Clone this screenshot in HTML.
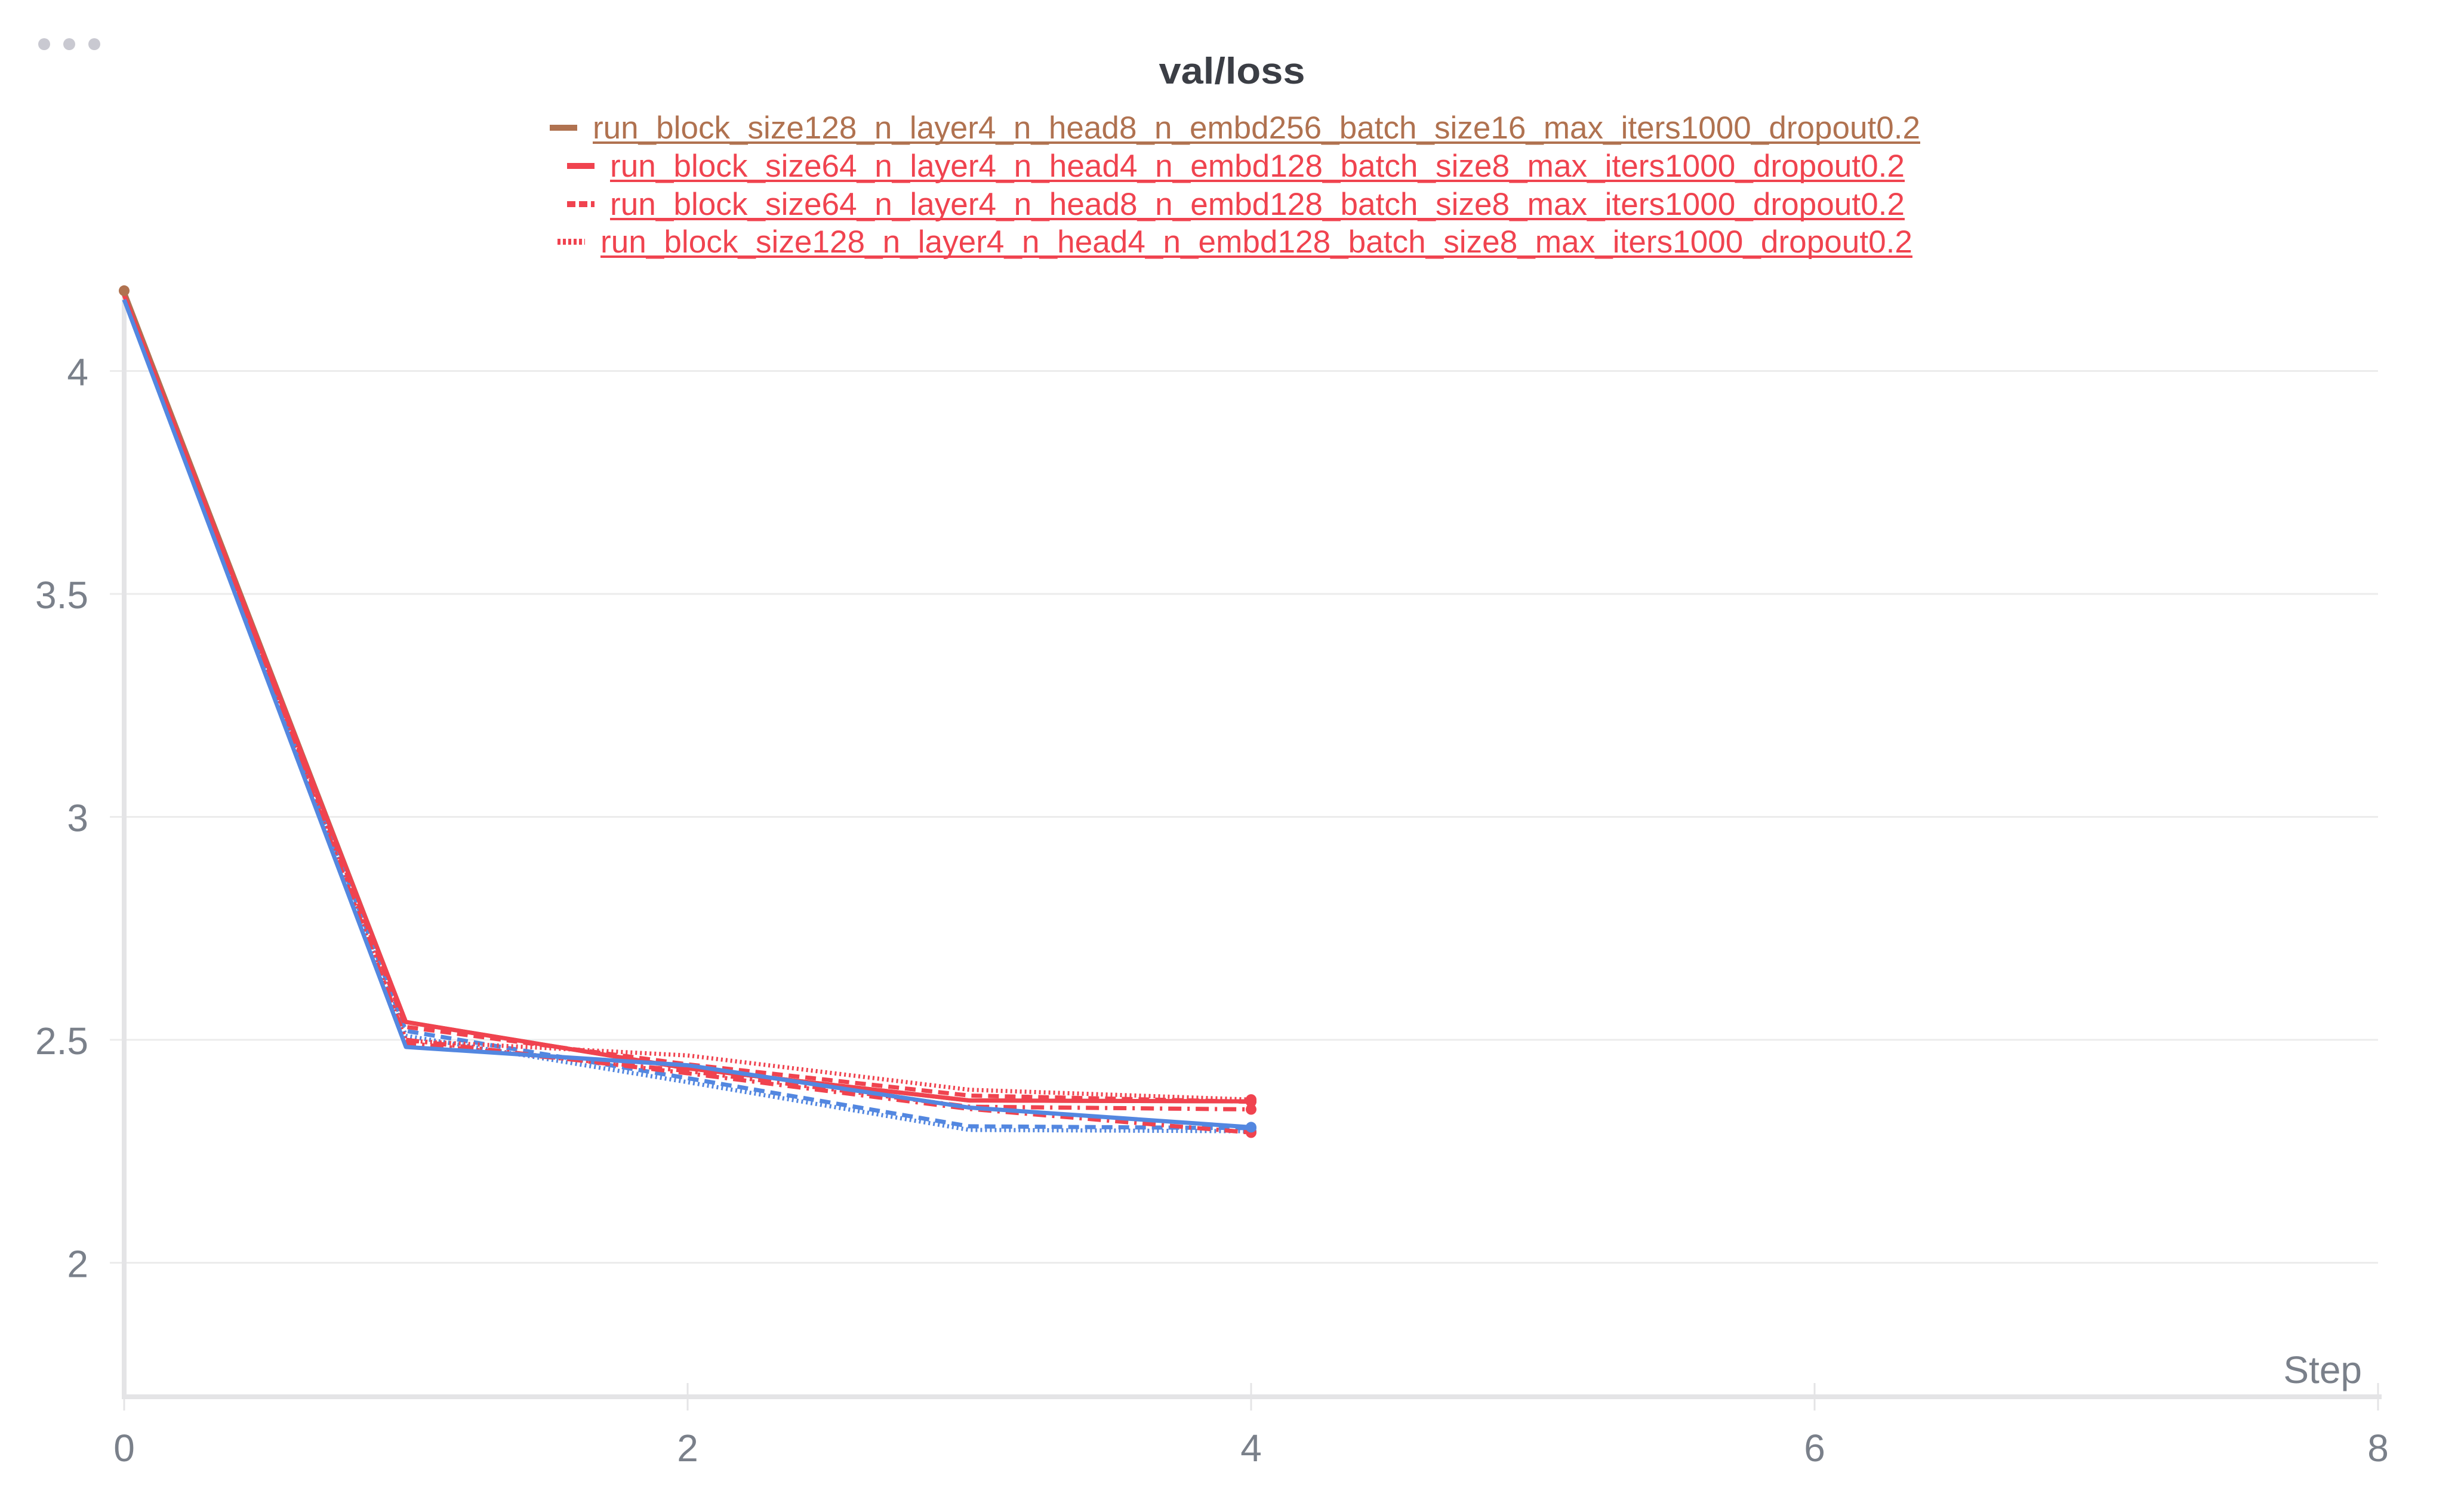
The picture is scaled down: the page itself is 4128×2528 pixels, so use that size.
<!DOCTYPE html>
<html><head><meta charset="utf-8"><style>
html,body{margin:0;padding:0;background:#fff;width:4128px;height:2528px;overflow:hidden}
svg{display:block;font-family:"Liberation Sans",sans-serif}
</style></head><body>
<svg id="chart" width="4128" height="2528" viewBox="0 0 4128 2528">
<g fill="#c9c9d1">
<circle cx="74" cy="74" r="10"/><circle cx="116" cy="74" r="10"/><circle cx="158" cy="74" r="10"/>
</g>
<text x="2064" y="140" text-anchor="middle" font-size="62" font-weight="bold" fill="#3b3e45" textLength="245" lengthAdjust="spacingAndGlyphs">val/loss</text>
<g id="grid"></g>
<g id="axes"></g>
<g id="series"></g>
<g id="legend"></g>
</svg>
<script>
const steps = [0, 1, 2, 3, 4];
const xTicks = [0, 2, 4, 6, 8];
const yTicks = [2, 2.5, 3, 3.5, 4];
const yTickLabels = ["2", "2.5", "3", "3.5", "4"];
const brownSolid = [4.18, 2.54, 2.436, 2.364, 2.362];
const redSolid = [4.17, 2.54, 2.436, 2.364, 2.362];
const redDashed = [4.17, 2.529, 2.445, 2.375, 2.361];
const redDotted = [4.17, 2.498, 2.465, 2.388, 2.366];
const redDashDot = [4.17, 2.493, 2.43, 2.35, 2.344];
const redDashDot2 = [4.17, 2.5, 2.425, 2.345, 2.292];
const blueSolid = [4.16, 2.484, 2.443, 2.348, 2.304];
const blueDashed = [4.16, 2.52, 2.414, 2.306, 2.302];
const blueDotted = [4.16, 2.509, 2.405, 2.298, 2.295];
const legendLabels = [
 "run_block_size128_n_layer4_n_head8_n_embd256_batch_size16_max_iters1000_dropout0.2",
 "run_block_size64_n_layer4_n_head4_n_embd128_batch_size8_max_iters1000_dropout0.2",
 "run_block_size64_n_layer4_n_head8_n_embd128_batch_size8_max_iters1000_dropout0.2",
 "run_block_size128_n_layer4_n_head4_n_embd128_batch_size8_max_iters1000_dropout0.2"
];

const NS = "http://www.w3.org/2000/svg";
const X0 = 208, XPX = 472;
const xs = v => X0 + v * XPX;
const ys = v => 1742 - (v - 2.5) * 747;
function mk(tag, attrs, parent){const e=document.createElementNS(NS,tag);for(const k in attrs)e.setAttribute(k,attrs[k]);parent.appendChild(e);return e;}
const grid=document.getElementById('grid'), axes=document.getElementById('axes'), ser=document.getElementById('series'), leg=document.getElementById('legend');

yTicks.forEach((t,i)=>{
 const l=mk('line',{x1:184,x2:3984,y1:ys(t),y2:ys(t),stroke:'#ececec','stroke-width':3},grid);
 
 
 const tx=mk('text',{x:148,y:ys(t)+24,'text-anchor':'end','font-size':64,fill:'#7a808a'},axes);
 tx.textContent=yTickLabels[i];
 
 
});
const ya=mk('line',{x1:208,x2:208,y1:479,y2:2344,stroke:'#e4e4e6','stroke-width':8},axes);


const xa=mk('line',{x1:204,x2:3990,y1:2340,y2:2340,stroke:'#e4e4e6','stroke-width':8},axes);


xTicks.forEach(t=>{
 const tk=mk('line',{x1:xs(t),x2:xs(t),y1:2317,y2:2363,stroke:'#e4e4e6','stroke-width':3},axes);
 
 
 const tx=mk('text',{x:xs(t),y:2448,'text-anchor':'middle','font-size':64,fill:'#7a808a'},axes);
 tx.textContent=String(t);
 
 
});
const st=mk('text',{x:3957,y:2317,'text-anchor':'end','font-size':64,fill:'#7a808a'},axes);
st.textContent='Step';



const RED='#f0434f', BLUE='#5387e0', BROWN='#b07250';
const seriesList=[
 [brownSolid,BROWN,'none','series-brown-solid'],
 [blueDotted,BLUE,'3 5','series-blue-dotted'],
 [blueDashed,BLUE,'18 10','series-blue-dashed'],
 [redDashDot2,RED,'22 10 4 10','series-red-dashdot-low'],
 [redDotted,RED,'3 5','series-red-dotted'],
 [redDashDot,RED,'22 10 4 10','series-red-dashdot'],
 [redDashed,RED,'18 10','series-red-dashed'],
 [redSolid,RED,'none','series-red-solid'],
 [blueSolid,BLUE,'none','series-blue-solid']
];
seriesList.forEach(([vals,col,dash,name])=>{
 const d=vals.map((v,i)=>(i?'L':'M')+xs(steps[i])+','+ys(v)).join(' ');
 const p=mk('path',{d:d,fill:'none',stroke:col,'stroke-width':7,'stroke-dasharray':dash,'stroke-linejoin':'round'},ser);
 
 
 const last=vals.length-1;
 const c=mk('circle',{cx:xs(steps[last]),cy:ys(vals[last]),r:9,fill:col},ser);
 
 
});
const sc=mk('circle',{cx:xs(0),cy:ys(brownSolid[0]),r:9,fill:BROWN},ser);



const legY=[232,296,360,423], legX=[993,1022,1022,1006], legEnd=[3217,3191,3191,3204];
const legCol=[BROWN,RED,RED,RED], legDash=['none','none','14 6','5 4'];
legendLabels.forEach((lab,i)=>{
 const ic=mk('line',{x1:legX[i]-72,x2:legX[i]-26,y1:legY[i]-18,y2:legY[i]-18,stroke:legCol[i],'stroke-width':10,'stroke-dasharray':legDash[i]},leg);
 
 
 const t=mk('text',{x:legX[i],y:legY[i],'font-size':53,fill:legCol[i],textLength:legEnd[i]-legX[i],lengthAdjust:'spacingAndGlyphs'},leg);
 t.textContent=lab;
 
 
 const u=mk('line',{x1:legX[i],x2:legEnd[i],y1:legY[i]+7,y2:legY[i]+7,stroke:legCol[i],'stroke-width':4},leg);
 
 
});
</script>
</body></html>
